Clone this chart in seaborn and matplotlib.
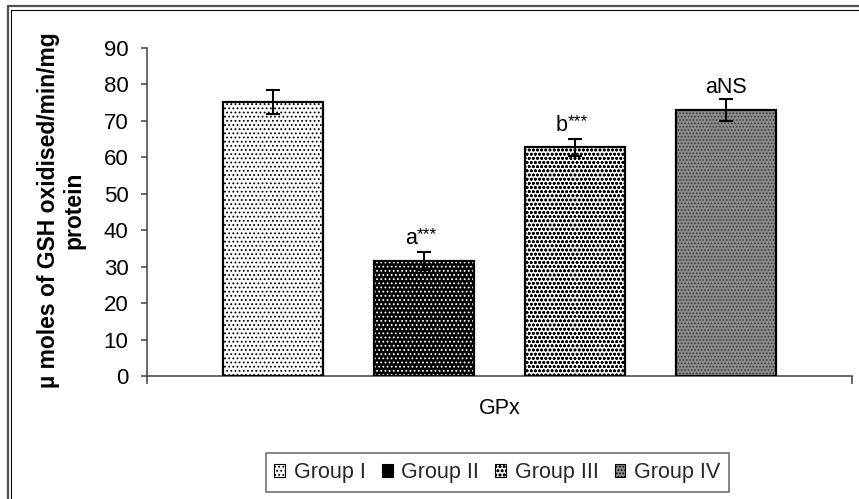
import numpy as np
import pandas as pd
import seaborn as sns
import matplotlib.pyplot as plt
from matplotlib.patches import Patch, Rectangle
from matplotlib.lines import Line2D

# values
groups = ['Group I', 'Group II', 'Group III', 'Group IV']
gpx_mean = [75.2, 31.6, 62.8, 73.0]
gpx_sem = [3.3, 2.4, 2.3, 3.1]
sig_letter = ['', 'a', 'b', 'a']
sig_mark = ['', '***', '***', 'NS']

# look of each group (face, hatch, hatch colour)
faces = ['white', 'black', 'white', '#8c8c8c']
hatches = ['....', '....', 'oooo', '.....']
hatch_cols = ['black', 'white', 'black', '#3a3a3a']

sns.set_theme(style='white')
plt.rcParams['font.family'] = ['Liberation Sans', 'DejaVu Sans']
plt.rcParams['hatch.linewidth'] = 0.8

df = pd.DataFrame({'assay': ['GPx'] * 4, 'group': groups, 'value': gpx_mean})

fig = plt.figure(figsize=(8.59, 4.99), dpi=100)
ax = fig.add_axes([0.1711, 0.2465, 0.8208, 0.6573])

sns.barplot(data=df, x='assay', y='value', hue='group', hue_order=groups,
            palette=faces, width=0.857, gap=0.34, errorbar=None,
            legend=False, ax=ax, zorder=2)

centers = []
for p, hc, h in zip(ax.patches, hatch_cols, hatches):
    p.set_hatch(h)
    p.set_edgecolor(hc)
    p.set_linewidth(0)
    ax.add_patch(Rectangle((p.get_x(), p.get_y()), p.get_width(), p.get_height(),
                           fill=False, edgecolor='black', lw=1.6, zorder=3))
    centers.append(p.get_x() + p.get_width() / 2)

ax.errorbar(centers, gpx_mean, yerr=gpx_sem, fmt='none', ecolor='black',
            elinewidth=1.5, capsize=4.7, capthick=1.5, zorder=5)

for cx, m, s, let, mark in zip(centers, gpx_mean, gpx_sem, sig_letter, sig_mark):
    if not mark:
        continue
    if mark == 'NS':
        ax.annotate(let + mark, (cx, m + s), xytext=(0, 6), textcoords='offset pixels',
                    ha='center', va='baseline', fontsize=15.5, color='black')
    else:
        ax.annotate(let, (cx, m + s), xytext=(-7, 8), textcoords='offset pixels',
                    ha='right', va='baseline', fontsize=15.5, color='black')
        ax.annotate(mark, (cx, m + s), xytext=(-7, 13), textcoords='offset pixels',
                    ha='left', va='baseline', fontsize=12.5, color='black')

ax.set_ylim(0, 90)
ax.set_yticks(np.arange(0, 91, 10))
ax.set_xlim(-0.5, 0.5)
ax.set_xlabel('')
ax.set_ylabel('µ moles of GSH oxidised/min/mg\nprotein', fontsize=16.5,
              fontweight='bold', color='black', linespacing=1.15)
ax.yaxis.set_label_coords(-0.087, 0.505)

for side in ['top', 'right']:
    ax.spines[side].set_visible(False)
for side in ['left', 'bottom']:
    ax.spines[side].set_color('#404040')
    ax.spines[side].set_linewidth(1.1)

ax.tick_params(axis='y', direction='out', length=4.3, width=1.1, color='#404040',
               left=True, labelsize=16, labelcolor='black', pad=9)
ax.tick_params(axis='x', which='major', length=0, labelsize=15.5, labelcolor='black', pad=16)
ax.set_xticks([-0.5, 0.5], minor=True)
ax.tick_params(axis='x', which='minor', direction='out', length=6, width=1.1,
               color='#404040', bottom=True)

handles = [Patch(facecolor=f, edgecolor='black', hatch=h, lw=0.8)
           for f, h in zip(faces, hatches)]
leg = fig.legend(handles, groups, loc='center', bbox_to_anchor=(0.579, 0.053),
                 ncol=4, fontsize=15.5, frameon=True, fancybox=False,
                 handlelength=0.5, handleheight=0.5, handletextpad=0.4,
                 columnspacing=0.75, borderpad=0.4)
leg.get_frame().set_edgecolor('#404040')
leg.get_frame().set_linewidth(1.1)

# double border of the chart area (only top and left are in frame)
W, H = 859, 499
fig.add_artist(Line2D([7.5 / W, 7.5 / W], [0, 1 - 6 / H], color='#505050', lw=1.6))
fig.add_artist(Line2D([7.5 / W, 1], [1 - 6 / H, 1 - 6 / H], color='#505050', lw=1.6))
fig.add_artist(Line2D([10.5 / W, 10.5 / W], [0, 1 - 9.5 / H], color='black', lw=0.8))
fig.add_artist(Line2D([10.5 / W, 1], [1 - 9.5 / H, 1 - 9.5 / H], color='black', lw=0.8))

fig.savefig('out.png', dpi=100)
